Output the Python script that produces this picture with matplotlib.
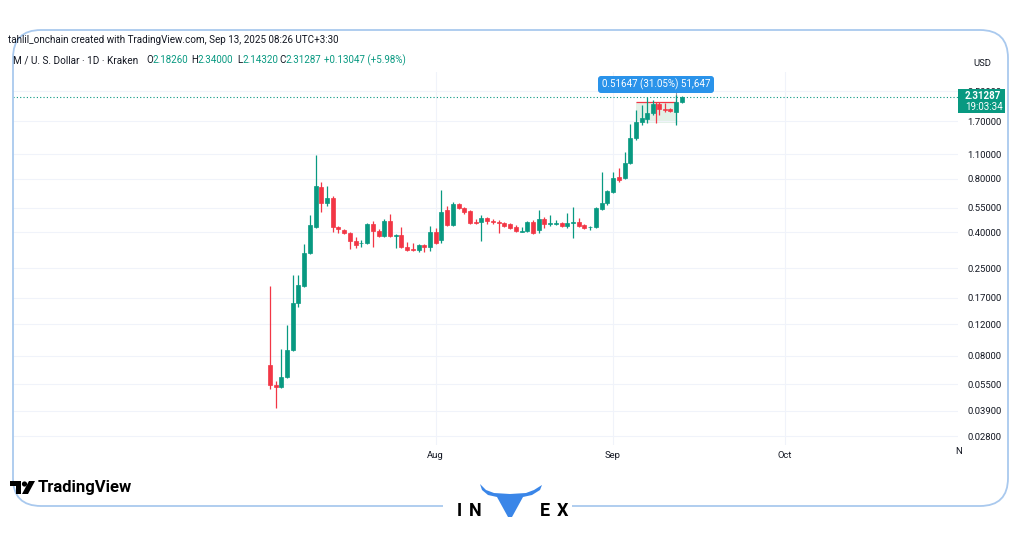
import numpy as np
import pandas as pd
import matplotlib
matplotlib.use('Agg')
import matplotlib.pyplot as plt
import matplotlib.dates as mdates
from matplotlib.patches import Rectangle, FancyBboxPatch, Circle, Polygon

plt.rcParams['font.family'] = ['Roboto', 'DejaVu Sans']

#- Daily candles, M / USD on Kraken, Jul 3 - Sep 13 2025
dates = pd.date_range('2025-07-03', periods=73, freq='D')
opens = [0.0708, 0.0545, 0.0531, 0.0605, 0.0860, 0.1586, 0.1980, 0.3044, 0.4271, 0.7193,
         0.5839, 0.6232, 0.4271, 0.4108, 0.3950, 0.3559, 0.3445, 0.3467, 0.4442, 0.4054,
         0.3799, 0.4619, 0.3799, 0.3849, 0.3291, 0.3207, 0.3165, 0.3378, 0.3291, 0.4002,
         0.3606, 0.5300, 0.4384, 0.5764, 0.5471, 0.5261, 0.4559, 0.4559, 0.4803, 0.4619,
         0.4559, 0.4500, 0.4442, 0.4271, 0.4028, 0.4054, 0.4559, 0.4108, 0.4741, 0.4442,
         0.4470, 0.4500, 0.4327, 0.4500, 0.4559, 0.4384, 0.4244, 0.4271, 0.5400, 0.5839,
         0.6739, 0.8195, 0.8089, 0.9834, 1.362, 1.678, 1.745, 1.887, 2.122, 1.988,
         1.988, 1.912, 2.1826]
highs = [0.198, 0.0574, 0.0871, 0.1191, 0.2285, 0.2285, 0.3422, 0.4994, 1.0916, 0.7678,
         0.7288, 0.6397, 0.4327, 0.4161, 0.4002, 0.3749, 0.3606, 0.4500, 0.4619, 0.4161,
         0.4741, 0.5060, 0.3899, 0.4271, 0.3513, 0.3467, 0.3422, 0.3422, 0.4327, 0.4216,
         0.6917, 0.5615, 0.5916, 0.5839, 0.5543, 0.5330, 0.4741, 0.4994, 0.4866, 0.4741,
         0.4679, 0.4559, 0.4500, 0.4384, 0.4271, 0.4619, 0.4679, 0.5330, 0.4866, 0.4994,
         0.4679, 0.4559, 0.5126, 0.5543, 0.4803, 0.4442, 0.4327, 0.5543, 0.8747, 0.6917,
         0.8747, 0.9215, 1.135, 1.63, 1.962, 2.094, 2.33, 2.235, 2.178, 2.149,
         2.014, 2.386, 2.34]
lows = [0.0517, 0.0404, 0.0524, 0.0597, 0.0849, 0.1506, 0.1954, 0.3004, 0.4216, 0.5193,
        0.5615, 0.4002, 0.3950, 0.3899, 0.3207, 0.3249, 0.3291, 0.3422, 0.3291, 0.3749,
        0.3749, 0.3749, 0.3249, 0.3249, 0.3124, 0.3124, 0.3084, 0.3084, 0.3124, 0.3422,
        0.3467, 0.4327, 0.4327, 0.5400, 0.5060, 0.4442, 0.4442, 0.3559, 0.4442, 0.4442,
        0.3950, 0.4271, 0.4161, 0.4002, 0.4002, 0.4002, 0.3899, 0.3950, 0.4216, 0.4327,
        0.4384, 0.4271, 0.4216, 0.3701, 0.4271, 0.4161, 0.4108, 0.4216, 0.5330, 0.5689,
        0.6652, 0.7678, 0.7984, 0.9707, 1.327, 1.614, 1.656, 1.838, 1.838, 1.912,
        1.912, 1.614, 2.1432]
closes = [0.0545, 0.0531, 0.0605, 0.0860, 0.1586, 0.2006, 0.3044, 0.4384, 0.7288, 0.5839,
          0.6232, 0.4271, 0.4161, 0.3950, 0.3559, 0.3378, 0.3467, 0.4442, 0.4054, 0.3799,
          0.4619, 0.3799, 0.3849, 0.3291, 0.3165, 0.3165, 0.3378, 0.3291, 0.4002, 0.3467,
          0.5193, 0.4384, 0.5764, 0.5471, 0.5193, 0.4500, 0.4500, 0.4803, 0.4619, 0.4559,
          0.4529, 0.4327, 0.4216, 0.4054, 0.4054, 0.4559, 0.3950, 0.4741, 0.4442, 0.4500,
          0.4500, 0.4327, 0.4500, 0.4559, 0.4327, 0.4216, 0.4271, 0.5471, 0.5839, 0.6828,
          0.8089, 0.7881, 0.9834, 1.362, 1.678, 1.768, 1.887, 2.122, 1.988, 1.962,
          1.937, 2.1824, 2.31287]

y_ticks = [0.028, 0.039, 0.055, 0.08, 0.12, 0.17, 0.25, 0.40, 0.55, 0.80, 1.10, 1.70, 2.50]
x_ticks = ['2025-08-01', '2025-09-01', '2025-10-01']
x_tick_labels = ['Aug', 'Sep', 'Oct']

last_price = 2.31287
range_low, range_high = 1.6633, 2.17977   # measure tool box
range_start, range_end = '2025-09-05', '2025-09-12'

UP = '#089981'
DOWN = '#f23645'
TXT = '#131722'
GRID = '#f0f3fa'
BLUE = '#3a86e8'

fig = plt.figure(figsize=(10.24, 5.38), dpi=100)
fig.patch.set_facecolor('white')

# main price pane (pixel box 13..958 x 72..445)
ax = fig.add_axes([13/1024, 1-445/538, 945/1024, 373/538])
ax.set_yscale('log')
xd = mdates.date2num(dates)
o = np.array(opens); h = np.array(highs); l = np.array(lows); c = np.array(closes)
cols = np.where(c >= o, UP, DOWN)
ax.vlines(xd, l, h, colors=cols, linewidth=0.9, zorder=3)
body_lo = np.minimum(o, c)
body_hi = np.maximum(o, c)
ax.bar(xd, body_hi-body_lo, bottom=body_lo, width=0.7, color=cols,
       edgecolor=cols, linewidth=0.5, zorder=4)

ax.set_xlim(xd[0]-44.9, xd[0]+120.3)
ax.set_ylim(0.02493, 3.22)

ax.set_yticks(y_ticks)
ax.set_yticklabels(['%.5f' % v for v in y_ticks])
ax.yaxis.set_minor_locator(matplotlib.ticker.NullLocator())
ax.yaxis.tick_right()
ax.tick_params(axis='y', length=0, pad=7, labelsize=6.8, labelcolor=TXT)
ax.set_xticks(mdates.date2num(pd.to_datetime(x_ticks)))
ax.set_xticklabels(x_tick_labels)
ax.tick_params(axis='x', length=0, pad=4, labelsize=6.8, labelcolor=TXT)
ax.grid(True, color=GRID, linewidth=0.8)
for s in ax.spines.values():
    s.set_visible(False)

# last price dotted line
ax.axhline(last_price, color=UP, linestyle=(0, (1, 2)), linewidth=0.8, zorder=2)

# measure (price range) tool
r0 = mdates.date2num(pd.Timestamp(range_start))
r1 = mdates.date2num(pd.Timestamp(range_end))
ax.add_patch(Rectangle((r0, range_low), r1-r0, range_high-range_low,
                       facecolor='#cfe8d8', alpha=0.6, edgecolor='none', zorder=1))
ax.hlines(range_high, r0, r1, colors=DOWN, linewidth=0.9, zorder=2)
ax.vlines((r0+r1)/2, range_low, range_high, colors=DOWN, linewidth=0.9, zorder=2)
ax.vlines(r1, range_low, 2.5, colors='#9598a1', linewidth=0.8, zorder=2)

# overlay in pixel coordinates
ov = fig.add_axes([0, 0, 1, 1], zorder=5)
ov.set_xlim(0, 1024)
ov.set_ylim(538, 0)
ov.axis('off')
ov.patch.set_alpha(0)

# rounded frame, gap under the INVEX logo
ov.add_patch(FancyBboxPatch((13, 30), 995, 476, boxstyle='round,pad=0,rounding_size=28',
                            facecolor='none', edgecolor='#a9c9ee', linewidth=1.3))
ov.add_patch(Rectangle((443, 498), 129, 16, facecolor='white', edgecolor='none', zorder=2))

# header lines
ov.text(8, 40, 'tahlil_onchain created with TradingView.com, Sep 13, 2025 08:26 UTC+3:30',
        fontsize=7.1, color=TXT, va='center')
ov.text(13, 60, 'M / U. S. Dollar · 1D · Kraken', fontsize=7.2, color=TXT, va='center')
parts = [(146, 'O', '2.18260'), (191, 'H', '2.34000'), (237, 'L', '2.14320'), (279, 'C', '2.31287')]
for px, k, v in parts:
    t = ov.text(px, 60, k, fontsize=7, color=TXT, va='center')
    ov.annotate(v, xycoords=t, xy=(1, 0), va='bottom', fontsize=7, color=UP)
ov.text(324, 60, '+0.13047 (+5.98%)', fontsize=7, color=UP, va='center')
ov.text(973, 63, 'USD', fontsize=6.8, color=TXT, va='center')
ov.text(955, 452, 'N', fontsize=6.8, color=TXT, va='center')

# last price tag
ov.add_patch(Rectangle((958, 89), 47, 24, facecolor=UP, edgecolor='none', zorder=3))
ov.text(965, 96, '2.31287', fontsize=7, color='white', va='center', fontweight='bold', zorder=4)
ov.text(965, 107, '19:03:34', fontsize=7, color='white', va='center', zorder=4)

# measure label
ov.add_patch(FancyBboxPatch((598, 76), 116, 17, boxstyle='round,pad=0,rounding_size=3',
                            facecolor='#2a93ea', edgecolor='none'))
ov.text(656, 84.5, '0.51647 (31.05%) 51,647', fontsize=7, color='white',
        va='center', ha='center')

# TradingView logo
ov.add_patch(Polygon([(10, 481), (21, 481), (21, 494), (16, 494), (16, 486), (10, 486)],
                     closed=True, facecolor='black'))
ov.add_patch(Circle((24.5, 484), 2.6, facecolor='black'))
ov.add_patch(Polygon([(29, 481), (35, 481), (28, 494), (22, 494)], closed=True, facecolor='black'))
ov.text(38, 487.5, 'TradingView', fontsize=12, fontweight='bold', color='black', va='center')

# INVEX logo
for px, ch in [(459, 'I'), (475, 'N'), (545, 'E'), (563, 'X')]:
    ov.text(px, 510.5, ch, fontsize=13, fontweight='bold', color='black',
            va='center', ha='center', zorder=4)
ov.add_patch(Polygon([(480, 484), (486, 490), (494, 493), (510, 494), (526, 493), (534, 490),
                      (542, 485), (540, 490), (532, 495), (523, 497), (512, 517), (508, 517),
                      (497, 497), (488, 495), (482, 490)],
                     closed=True, facecolor=BLUE, edgecolor='none', zorder=4))

plt.savefig('out.png', dpi=100)
